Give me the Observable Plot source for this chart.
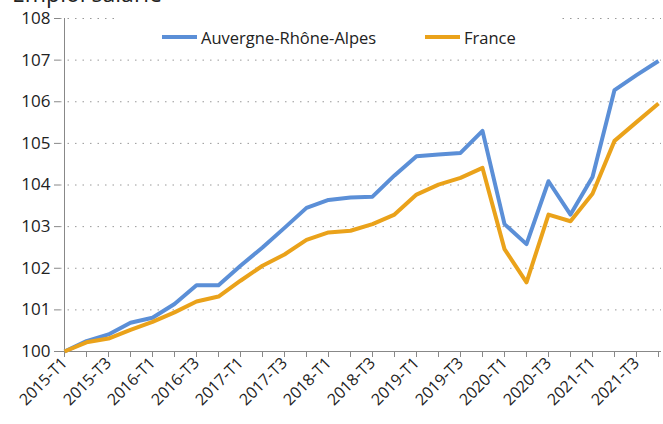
<!DOCTYPE html>
<html>
<head>
<meta charset="utf-8">
<script src="https://cdn.jsdelivr.net/npm/d3@7"></script>
<script src="https://cdn.jsdelivr.net/npm/@observablehq/plot@0.6"></script>
<style>
  html, body { margin: 0; padding: 0; background: #fff; }
  #wrap { position: relative; width: 663px; height: 424px; overflow: hidden; font-family: "Open Sans", sans-serif; }
  #title { position: absolute; left: 12px; top: -21px; font-size: 23px; line-height: 28px; color: #222; white-space: nowrap; }
  #legend { position: absolute; left: 120px; top: 17px; width: 440px; height: 40px; background: #fff; }
  .item { position: absolute; top: 0; height: 40px; display: flex; align-items: center; font-size: 16.5px; color: #222; }
  .sw { width: 35px; height: 4px; margin-right: 4px; }
</style>
</head>
<body>
<div id="wrap">
  <div id="chart"></div>
  <div id="title">Emploi salarié</div>
  <div id="legend"></div>
</div>
<script>
const quarters = ["2015-T1","2015-T2","2015-T3","2015-T4","2016-T1","2016-T2","2016-T3","2016-T4",
  "2017-T1","2017-T2","2017-T3","2017-T4","2018-T1","2018-T2","2018-T3","2018-T4",
  "2019-T1","2019-T2","2019-T3","2019-T4","2020-T1","2020-T2","2020-T3","2020-T4",
  "2021-T1","2021-T2","2021-T3","2021-T4"];
const ara = [100.0, 100.25, 100.41, 100.69, 100.81, 101.14, 101.59, 101.59, 102.06, 102.5, 102.97, 103.45,
  103.64, 103.70, 103.72, 104.23, 104.69, 104.73, 104.77, 105.30, 103.06, 102.58, 104.09, 103.29,
  104.19, 106.28, 106.64, 106.98];
const fr = [100.0, 100.22, 100.31, 100.52, 100.71, 100.94, 101.2, 101.32, 101.70, 102.06, 102.33, 102.68,
  102.86, 102.9, 103.06, 103.29, 103.77, 104.01, 104.17, 104.41, 102.46, 101.66, 103.29, 103.13,
  103.79, 105.06, 105.51, 105.96];
const seriesNames = ["Auvergne-Rhône-Alpes", "France"];
const seriesColors = ["#5B8FD7", "#EAA21A"];
const yTicks = [100, 101, 102, 103, 104, 105, 106, 107, 108];

const data = [];
quarters.forEach((q, i) => {
  data.push({q, v: ara[i], s: seriesNames[0]});
  data.push({q, v: fr[i], s: seriesNames[1]});
});

const chart = Plot.plot({
  width: 663,
  height: 424,
  marginLeft: 60,
  marginRight: 2,
  marginTop: 18,
  marginBottom: 73,
  style: {fontFamily: "Open Sans, sans-serif", fontSize: "16px", color: "#222", background: "#fff"},
  x: {type: "point", domain: quarters, padding: 0},
  y: {domain: [100, 108]},
  color: {domain: seriesNames, range: seriesColors},
  marks: [
    Plot.gridY(yTicks.slice(1), {stroke: "#999", strokeOpacity: 1, strokeDasharray: "1.5,6"}),
    Plot.ruleY([100], {stroke: "#888"}),
    Plot.ruleX([quarters[0]], {y1: 100, y2: 108, stroke: "#888"}),
    Plot.axisY(yTicks, {tickSize: 6, tickPadding: 4, stroke: "#888", fill: "#222", fontSize: 17, label: null}),
    Plot.axisX(quarters, {tickSize: 6, tickPadding: 3, tickRotate: -45, stroke: "#888", fill: "#222", fontSize: 16,
      label: null, tickFormat: (d) => quarters.indexOf(d) % 2 === 0 ? d : ""}),
    Plot.line(data, {x: "q", y: "v", z: "s", stroke: "s", strokeWidth: 4, strokeLinejoin: "round", strokeLinecap: "butt"})
  ]
});
document.getElementById("chart").appendChild(chart);

const legend = document.getElementById("legend");
const lefts = [42, 305];
seriesNames.forEach((n, i) => {
  const it = document.createElement("div");
  it.className = "item";
  it.style.left = lefts[i] + "px";
  const sw = document.createElement("div");
  sw.className = "sw";
  sw.style.background = seriesColors[i];
  it.appendChild(sw);
  const t = document.createElement("span");
  t.textContent = n;
  it.appendChild(t);
  legend.appendChild(it);
});
</script>
</body>
</html>
